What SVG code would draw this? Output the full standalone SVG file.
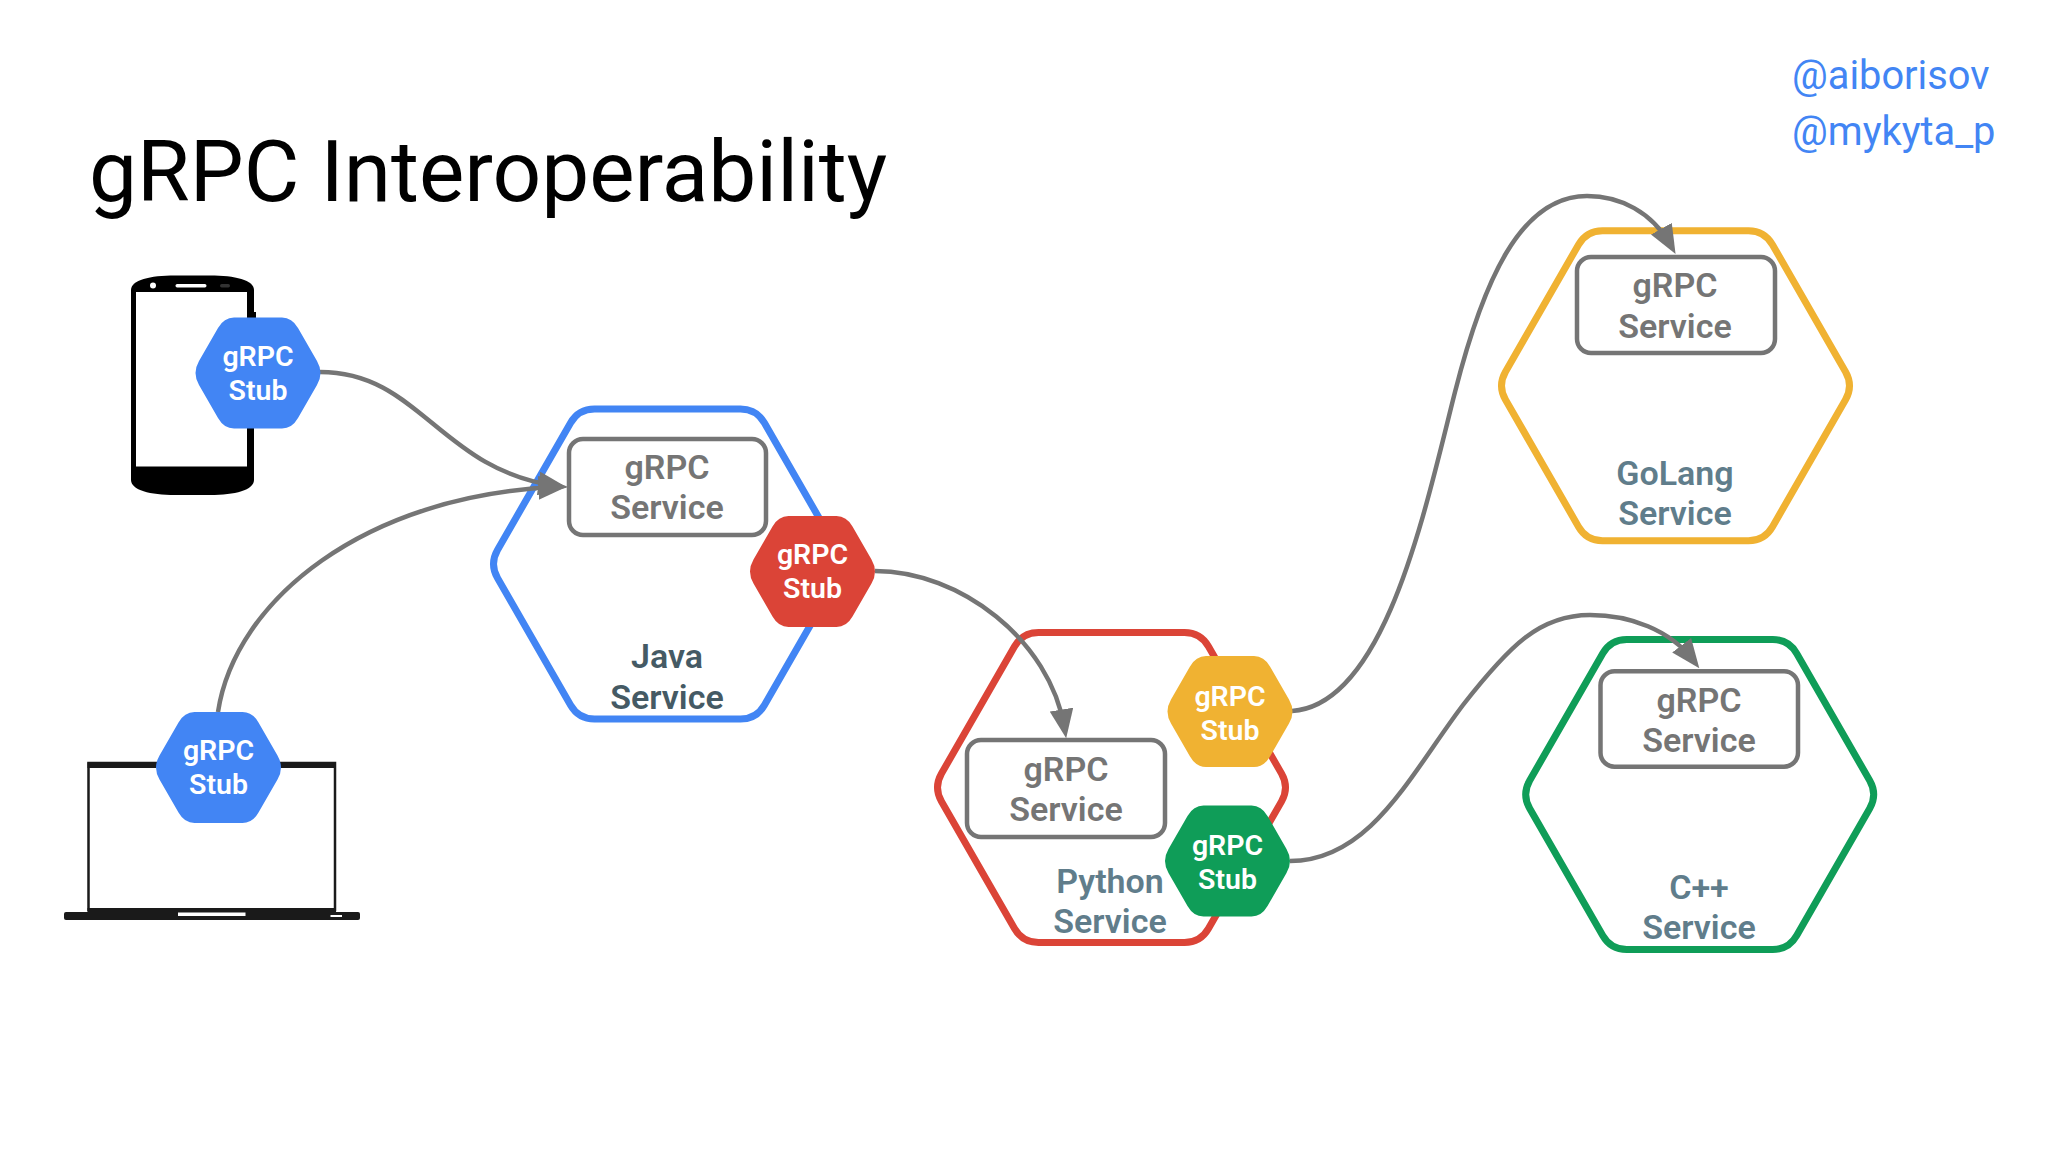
<svg xmlns="http://www.w3.org/2000/svg" xmlns:xlink="http://www.w3.org/1999/xlink" width="2048" height="1152" viewBox="0 0 2048 1152">
<style>
text{font-family:Roboto,"Liberation Sans",sans-serif;text-anchor:middle}
.title{font-size:85.500px;font-weight:400;fill:#000;text-anchor:start}
.handle{font-size:39.800px;font-weight:400;fill:#4285f4;text-anchor:start}
.svc{font-size:34px;font-weight:600;fill:#757575}
.dark{fill:#455a64}
.slate{fill:#607d8b}
.stub{font-size:28.500px;font-weight:600;fill:#fff}
.box{fill:#fff;stroke:#757575;stroke-width:4.500}
.hexo{fill:#fff;stroke-width:7}
.con{fill:none;stroke:#757575;stroke-width:4.500;marker-end:url(#arrow)}
.con2{fill:none;stroke:#757575;stroke-width:4.500}
</style>
<defs>
<path id="hex" d="M-170,-14L-97,-141Q-89,-155 -73,-155L73,-155Q89,-155 97,-141L170,-14Q178,0 170,14L97,141Q89,155 73,155L-73,155Q-89,155 -97,141L-170,14Q-178,0 -170,-14Z"/>
<path id="stubhex" d="M-59,-12L-40,-45Q-34,-55.500 -24,-55.500L24,-55.500Q34,-55.500 40,-45L59,-12Q66,0 59,12L40,45Q34,55.500 24,55.500L-24,55.500Q-34,55.500 -40,45L-59,12Q-66,0 -59,-12Z"/>
<marker id="arrow" markerUnits="userSpaceOnUse" markerWidth="29" markerHeight="24" viewBox="0 0 28 23" refX="18" refY="11.500" orient="auto"><path d="M0,0L28,11.500L0,23Z" fill="#757575"/></marker>
</defs>
<rect width="2048" height="1152" fill="#fff"/>
<text class="title" x="89" y="201">gRPC Interoperability</text>
<text class="handle" x="1792" y="89">@aiborisov</text>
<text class="handle" x="1792" y="145">@mykyta_p</text>

<g id="phone">
<path d="M131,290C131,280 150,275.500 175,275.500L210,275.500C235,275.500 254,280 254,290L254,480C254,490 235,495 210,495L175,495C150,495 131,490 131,480Z" fill="#000"/>
<rect x="254" y="312" width="2" height="18" fill="#000"/>
<rect x="136" y="292" width="111" height="174.500" fill="#fff"/>
<circle cx="153" cy="285.500" r="3" fill="#fff"/>
<rect x="175.500" y="284" width="31" height="3.500" rx="1.700" fill="#fff"/>
<rect x="220" y="284" width="10" height="3.500" rx="1.700" fill="#333"/>
</g>
<g id="laptop">
<rect x="88.500" y="763" width="246.500" height="147" fill="#fff" stroke="#1a1a1a" stroke-width="2.500"/>
<rect x="87.500" y="762.500" width="248.500" height="5.500" fill="#1a1a1a"/>
<rect x="87.500" y="908" width="248.500" height="5" fill="#1a1a1a"/>
<rect x="64" y="912" width="296" height="8" rx="2" fill="#1a1a1a"/>
<rect x="178" y="912.500" width="67.500" height="3.500" fill="#fff"/>
<rect x="330.500" y="915" width="11.500" height="2" fill="#fff"/>
</g>

<g id="java-service">
<use xlink:href="#hex" href="#hex" x="667.500" y="564" class="hexo" stroke="#4285f4"/>
<rect class="box" x="569" y="439" width="197" height="96" rx="14"/>
<text class="svc" x="667" y="479">gRPC</text><text class="svc" x="667" y="519">Service</text>
<text class="svc dark" x="667" y="668">Java</text><text class="svc dark" x="667" y="709">Service</text>
</g>
<g id="python-service">
<use xlink:href="#hex" href="#hex" x="1111.500" y="787.500" class="hexo" stroke="#db4437"/>
<rect class="box" x="967" y="740" width="198" height="97" rx="14"/>
<text class="svc" x="1066" y="781">gRPC</text><text class="svc" x="1066" y="821">Service</text>
<text class="svc slate" x="1110" y="893">Python</text><text class="svc slate" x="1110" y="933">Service</text>
</g>
<g id="golang-service">
<use xlink:href="#hex" href="#hex" x="1675.500" y="385.700" class="hexo" stroke="#f0b232"/>
<rect class="box" x="1577" y="257" width="198" height="96" rx="14"/>
<text class="svc" x="1675" y="297">gRPC</text><text class="svc" x="1675" y="338">Service</text>
<text class="svc slate" x="1675" y="485">GoLang</text><text class="svc slate" x="1675" y="525">Service</text>
</g>
<g id="cpp-service">
<use xlink:href="#hex" href="#hex" x="1699.700" y="794.500" class="hexo" stroke="#0f9d58"/>
<rect class="box" x="1600.500" y="671.200" width="197.500" height="95.500" rx="14"/>
<text class="svc" x="1699" y="712">gRPC</text><text class="svc" x="1699" y="752">Service</text>
<text class="svc slate" x="1699" y="898.500">C++</text><text class="svc slate" x="1699" y="939">Service</text>
</g>

<g id="connectors">
<path class="con" d="M320,372C420,372 440,470 557,486"/>
<path class="con" d="M218,712C235,600 365,495 557,487"/>
<path class="con" d="M875,571C960,571 1050,640 1064.500,728"/>
<path class="con2" d="M1292,711C1385,705 1425,510 1455,392C1483,282 1520,196 1587,196"/>
<path class="con" d="M1587,196C1620,196 1652,212 1670.500,245"/>
<path class="con2" d="M1290,861C1370,861 1410,775 1463,705C1510,645 1540,615 1590,615"/>
<path class="con" d="M1590,615C1630,615 1670,630 1693,660"/>
</g>

<g id="stub-phone"><use xlink:href="#stubhex" href="#stubhex" x="258" y="373" fill="#4285f4"/><text class="stub" x="258" y="366">gRPC</text><text class="stub" x="258" y="400">Stub</text></g>
<g id="stub-laptop"><use xlink:href="#stubhex" href="#stubhex" x="218.500" y="767.500" fill="#4285f4"/><text class="stub" x="218.500" y="760">gRPC</text><text class="stub" x="218.500" y="794">Stub</text></g>
<g id="stub-java"><use xlink:href="#stubhex" href="#stubhex" x="812.500" y="571.500" fill="#db4437"/><text class="stub" x="812.500" y="564">gRPC</text><text class="stub" x="812.500" y="598">Stub</text></g>
<g id="stub-golang"><use xlink:href="#stubhex" href="#stubhex" x="1230" y="711.500" fill="#f0b232"/><text class="stub" x="1230" y="706">gRPC</text><text class="stub" x="1230" y="740">Stub</text></g>
<g id="stub-cpp"><use xlink:href="#stubhex" href="#stubhex" x="1227.500" y="861" fill="#0f9d58"/><text class="stub" x="1227.500" y="855">gRPC</text><text class="stub" x="1227.500" y="889">Stub</text></g>
</svg>
